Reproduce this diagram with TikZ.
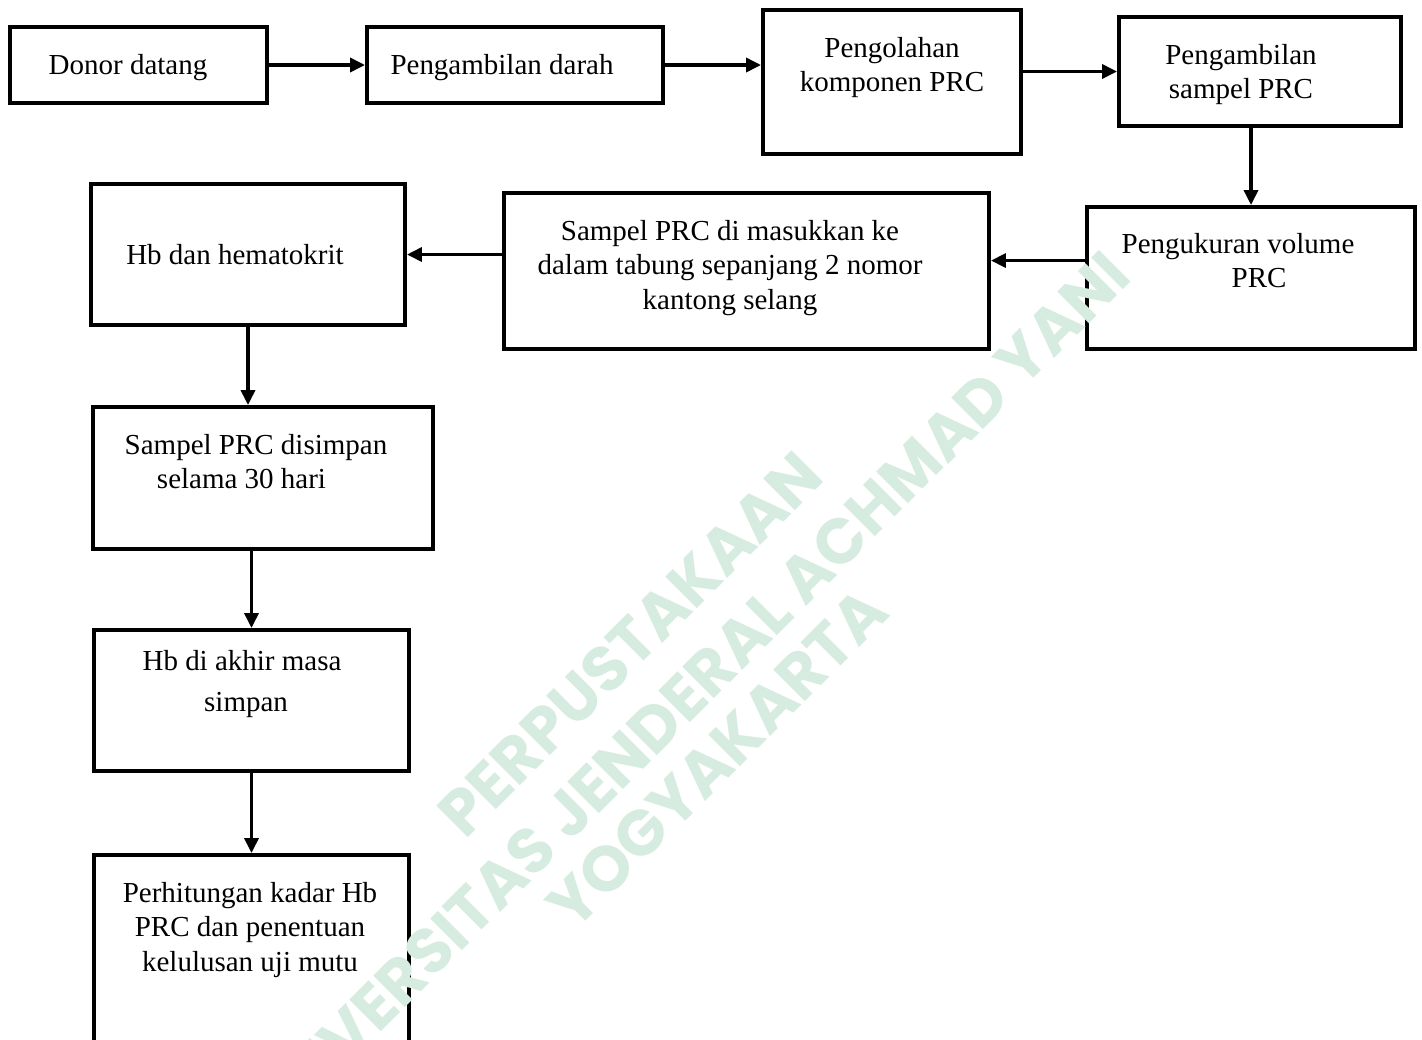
\documentclass[tikz,border=0pt]{standalone}
\usepackage{fontspec}
\setmainfont{Liberation Serif}
\newfontfamily\wmfont{Poppins}
\usetikzlibrary{arrows.meta}
\definecolor{wmgreen}{RGB}{214,236,224}
\tikzset{
  stepbox/.style={draw, rectangle, line width=2.3pt, inner sep=0pt},
  steptext/.style={anchor=north, inner sep=0pt, align=center,
    font=\fontsize{16.5}{19.6}\selectfont},
  flow/.style={->, >={Triangle[length=8.5pt,width=8pt]}, line width=1.9pt},
  wmtext/.style={text=wmgreen, rotate=45, inner sep=0pt,
    font=\wmfont\bfseries\fontsize{36.3}{44}\selectfont}
}
% box from (left,top) to (right,bottom), given in pixels
\newcommand{\drawstep}[5]
{
  \node[stepbox, minimum width={(#4-#2)*0.02cm}, minimum height={(#5-#3)*0.02cm}]
    (#1) at ({(#2+#4)/2},{(#3+#5)/2}) {};
}
\begin{document}
\begin{tikzpicture}[x=0.02cm,y=-0.02cm]
    \useasboundingbox (0,0) rectangle (1422,1039);

    % boxes
    \drawstep{donor}{10}{27}{267}{103}
    \drawstep{darah}{367}{27}{663}{103}
    \drawstep{olah}{763}{10}{1021}{154}
    \drawstep{sampel}{1119}{17}{1401}{126}
    \drawstep{ukur}{1087}{207}{1415}{349}
    \drawstep{masuk}{504}{193}{989}{349}
    \drawstep{hb}{91}{184}{405}{325}
    \drawstep{simpan}{93}{407}{433}{549}
    \drawstep{akhir}{94}{630}{409}{771}
    \drawstep{hitung}{94}{855}{409}{1080}

    % texts
    \node[steptext] (donortxt) at (128,54) {Donor datang};
    \node[steptext] (darahtxt) at (502,54) {Pengambilan darah};
    \node[steptext] (olahtxt) at (892,37) {Pengolahan\\komponen PRC};
    \node[steptext] (sampeltxt) at (1241,44) {Pengambilan\\sampel PRC};
    \node[steptext] (ukurtxt) at (1238,233) {Pengukuran volume\\\hspace*{1.45em}PRC};
    \node[steptext] (masuktxt) at (730,220)
      {Sampel PRC di masukkan ke\\dalam tabung sepanjang 2 nomor\\kantong selang};
    \node[steptext] (hbtxt) at (235,244) {Hb dan hematokrit};
    \node[steptext] (simpantxt) at (256,434)
      {Sampel PRC disimpan\\selama 30 hari\hspace*{1em}\mbox{}};
    \node[steptext, font=\fontsize{16.5}{23.2}\selectfont] (akhirtxt) at (242,650)
      {Hb di akhir masa\\\hspace*{0.28em}simpan};
    \node[steptext] (hitungtxt) at (250,882)
      {Perhitungan kadar Hb\\PRC dan penentuan\\kelulusan uji mutu};

    % connectors
    \draw[flow] (donor.east) -- (darah.west);
    \draw[flow] (darah.east) -- (darah.east -| olah.west);
    \draw[flow] (olah.east |- sampel.west) -- (sampel.west);
    \draw[flow] (sampel.south -| ukur.north) -- (ukur.north);
    \draw[flow] (ukur.174) -- (ukur.174 -| masuk.east);
    \draw[flow] (masuk.west |- hb.east) -- (hb.east);
    \draw[flow] (hb.south) -- (hb.south |- simpan.north);
    \draw[flow] (akhir.north |- simpan.south) -- (akhir.north);
    \draw[flow] (akhir.south) -- (hitung.north);

    % watermark
    \node[wmtext] (wmone) at (630,644) {PERPUSTAKAAN};
    \node[wmtext] (wmtwo) at (684,697) {UNIVERSITAS JENDERAL ACHMAD YANI};
    \node[wmtext] (wmthree) at (717,758) {YOGYAKARTA};
\end{tikzpicture}
\end{document}
